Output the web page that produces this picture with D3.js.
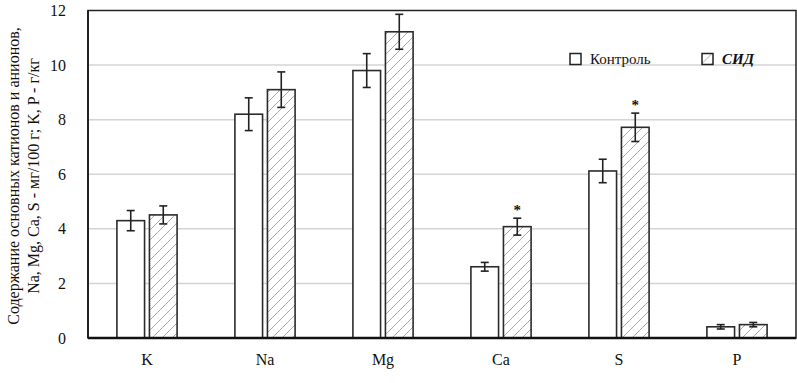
<!DOCTYPE html>
<html><head><meta charset="utf-8">
<script src="https://cdn.jsdelivr.net/npm/d3@7"></script>
<style>body{margin:0;background:#fff}svg{display:block}text{font-family:"Liberation Serif","Times New Roman",serif}</style>
</head><body>
<svg id="c" width="797" height="383"></svg>
<script>
const categories = ["K","Na","Mg","Ca","S","P"];
const seriesNames = ["Контроль","СИД"];
const control = [4.30, 8.20, 9.80, 2.61, 6.12, 0.41];
const controlErr = [0.37, 0.60, 0.62, 0.16, 0.43, 0.08];
const sid = [4.51, 9.10, 11.22, 4.08, 7.72, 0.49];
const sidErr = [0.33, 0.65, 0.64, 0.31, 0.52, 0.08];
const sidSignificant = [false, false, false, true, true, false];
const yTicks = [0,2,4,6,8,10,12];

const svg = d3.select("#c");
const m = {l:88, r:796, t:10.5, b:338};
const font = '"Liberation Serif", "Times New Roman", serif';

const defs = svg.append("defs");
const pat = defs.append("pattern").attr("id","hatch").attr("patternUnits","userSpaceOnUse")
  .attr("width",10).attr("height",10);
pat.append("rect").attr("width",10).attr("height",10).attr("fill","#fff");
pat.append("path").attr("d","M-1,1 l2,-2 M0,10 l10,-10 M9,11 l2,-2")
  .attr("stroke","#858585").attr("stroke-width",0.7);

const x = d3.scaleBand().domain(categories).range([m.l, m.r]).paddingInner(0).paddingOuter(0);
const bw = x.bandwidth();
const x1 = d3.scaleBand().domain(seriesNames).range([bw*0.245, bw*0.755]).paddingInner(0.15);
const y = d3.scaleLinear().domain([0,12]).range([m.b, m.t]);

// gridlines
svg.append("g").selectAll("line").data(yTicks.filter(d=>d>0 && d<12)).join("line")
  .attr("x1",m.l).attr("x2",m.r).attr("y1",d=>y(d)).attr("y2",d=>y(d))
  .attr("stroke","#d4d4d4").attr("stroke-width",1.5);

// y axis labels
const yAxis = d3.axisLeft(y).tickValues(yTicks).tickSize(0).tickPadding(22).tickFormat(d3.format("d"));
const ga = svg.append("g").attr("transform",`translate(${m.l},0)`).call(yAxis);
ga.attr("font-family",null).attr("font-size",null);
ga.select(".domain").remove();
ga.selectAll("text").style("font-family",font).style("font-size","16px").attr("fill","#111");

// x axis labels
const xAxis = d3.axisBottom(x).tickSize(0).tickPadding(16);
const gx = svg.append("g").attr("transform",`translate(0,${m.b})`).call(xAxis);
gx.attr("font-family",null).attr("font-size",null);
gx.select(".domain").remove();
gx.selectAll("text").style("font-family",font).style("font-size","16px").attr("fill","#111");

// bars
const data = [
  {name:seriesNames[0], vals:control, err:controlErr, fill:"#fff"},
  {name:seriesNames[1], vals:sid, err:sidErr, fill:"url(#hatch)"}
];
data.forEach(s=>{
  const g = svg.append("g");
  g.selectAll("rect").data(categories).join("rect")
    .attr("x",(c)=>x(c)+x1(s.name)).attr("width",x1.bandwidth())
    .attr("y",(c,i)=>y(s.vals[i])).attr("height",(c,i)=>m.b-y(s.vals[i]))
    .attr("fill",s.fill).attr("stroke","#2b2b2b").attr("stroke-width",1.6);
  const eg = g.selectAll("g.err").data(categories).join("g").attr("class","err");
  const cx = c=>x(c)+x1(s.name)+x1.bandwidth()/2;
  eg.append("line").attr("x1",cx).attr("x2",cx)
    .attr("y1",(c,i)=>y(s.vals[i]+s.err[i])).attr("y2",(c,i)=>y(s.vals[i]-s.err[i]));
  eg.append("line").attr("x1",c=>cx(c)-4).attr("x2",c=>cx(c)+4)
    .attr("y1",(c,i)=>y(s.vals[i]+s.err[i])).attr("y2",(c,i)=>y(s.vals[i]+s.err[i]));
  eg.append("line").attr("x1",c=>cx(c)-4).attr("x2",c=>cx(c)+4)
    .attr("y1",(c,i)=>y(s.vals[i]-s.err[i])).attr("y2",(c,i)=>y(s.vals[i]-s.err[i]));
  eg.selectAll("line").attr("stroke","#222").attr("stroke-width",1.6);
});

// significance asterisks
svg.append("g").selectAll("text").data(categories.filter((c,i)=>sidSignificant[i])).join("text")
  .attr("x",c=>x(c)+x1(seriesNames[1])+x1.bandwidth()/2)
  .attr("y",c=>{const i=categories.indexOf(c);return y(sid[i]+sidErr[i])-3;})
  .attr("text-anchor","middle").style("font-family",font).style("font-size","15px").attr("font-weight","bold")
  .attr("fill","#111").text("*");

// frame
svg.append("rect").attr("x",m.l).attr("y",m.t).attr("width",m.r-m.l).attr("height",m.b-m.t)
  .attr("fill","none").attr("stroke","#222").attr("stroke-width",1.5);
svg.append("line").attr("x1",m.l).attr("x2",m.r).attr("y1",m.b).attr("y2",m.b)
  .attr("stroke","#111").attr("stroke-width",2.5);
svg.append("line").attr("x1",m.l).attr("x2",m.l).attr("y1",m.t).attr("y2",m.b)
  .attr("stroke","#222").attr("stroke-width",2);

// legend
const leg = [{name:seriesNames[0], fill:"#fff", x:570, italic:false},
             {name:seriesNames[1], fill:"url(#hatch)", x:702, italic:true}];
const lg = svg.append("g").selectAll("g").data(leg).join("g").attr("transform",d=>`translate(${d.x},53.5)`);
lg.append("rect").attr("width",11).attr("height",11).attr("fill",d=>d.fill)
  .attr("stroke","#222").attr("stroke-width",1.5);
lg.append("text").attr("x",20).attr("y",10.5).style("font-family",font).style("font-size","15px")
  .style("font-style",d=>d.italic?"italic":"normal").style("font-weight",d=>d.italic?"bold":"normal")
  .attr("fill","#111").text(d=>d.name);

// y title
const yt = svg.append("text").attr("transform","translate(0,176) rotate(-90)")
  .attr("text-anchor","middle").style("font-family",font).style("font-size","16px").attr("fill","#111");
yt.append("tspan").attr("x",0).attr("y",19).text("Содержание основных катионов и анионов,");
yt.append("tspan").attr("x",0).attr("y",39).text("Na, Mg, Ca, S - мг/100 г; K, P - г/кг");
</script>
</body></html>
